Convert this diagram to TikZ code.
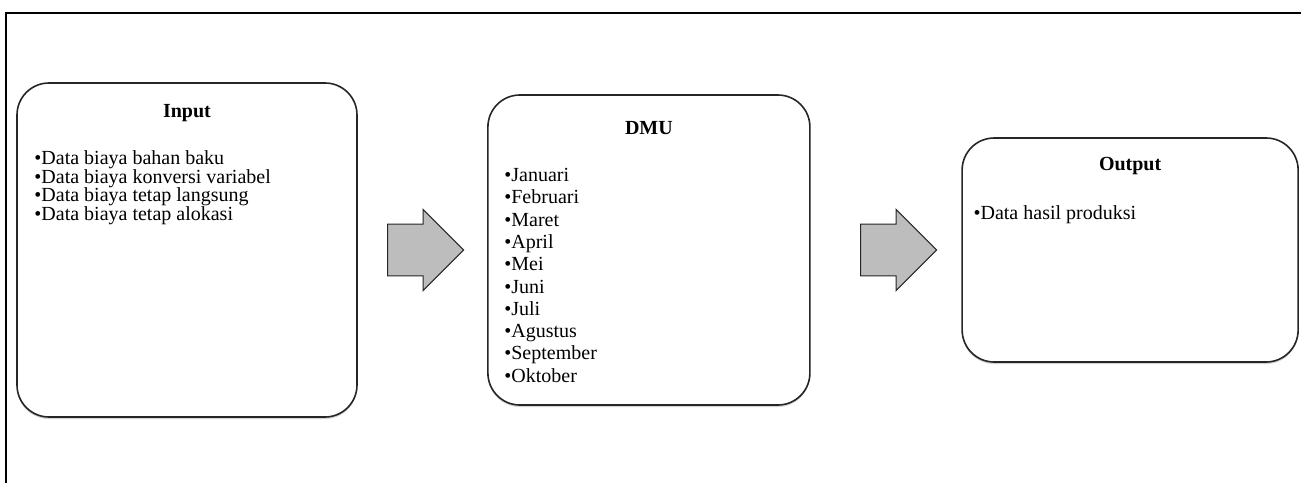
\documentclass[tikz,border=0pt]{standalone}
\usepackage{fontspec}
\setmainfont{Liberation Serif}
\usetikzlibrary{positioning,shapes.arrows,shadows}

\tikzset{
  kotak/.style={draw=black!85, line width=1.2pt, fill=white, rounded corners=24pt,
    drop shadow={shadow xshift=0pt, shadow yshift=-1.5pt, opacity=.35}},
  judul/.style={font=\bfseries\fontsize{15}{18}\selectfont},
  daftar/.style={align=left, anchor=north west, inner sep=0pt},
  panah/.style={single arrow, draw=black!85, line width=.8pt, fill=gray!52,
    inner xsep=0pt, inner ysep=19pt, single arrow head extend=11pt,
    minimum height=57pt}
}

\begin{document}
\begin{tikzpicture}[x=.75pt, y=-.75pt, font=\fontsize{15}{18}\selectfont]
\useasboundingbox (0,0) rectangle (1301,482);
% bingkai luar
\draw[line width=1.5pt] (1302,13.3) -- (6.3,13.3) -- (6.3,483);

% kotak
\node[kotak, minimum width=255pt, minimum height=250.5pt] (input) at (187,250) {};
\node[panah, right=22pt of input] (panah1) {};
\node[kotak, minimum width=241.5pt, minimum height=232.5pt, right=17pt of panah1] (dmu) {};
\node[panah, right=37pt of dmu] (panah2) {};
\node[kotak, minimum width=252pt, minimum height=168pt, right=18pt of panah2] (output) {};

% judul
\node[judul] (judulinput) at ([yshift=-23pt]input.north) {Input};
\node[judul] (juduldmu) at ([yshift=-25.5pt]dmu.north) {DMU};
\node[judul] (juduloutput) at ([yshift=-21.5pt]output.north) {Output};

% isi
\node[daftar, font=\fontsize{15}{14.1}\selectfont] (isiinput) at ([xshift=13.5pt, yshift=-51pt]input.north west)
  {•Data biaya bahan baku\\•Data biaya konversi variabel\\•Data biaya tetap langsung\\•Data biaya tetap alokasi};
\node[daftar, font=\fontsize{15}{16.7}\selectfont] (isidmu) at ([xshift=12.75pt, yshift=-55.5pt]dmu.north west)
  {•Januari\\•Februari\\•Maret\\•April\\•Mei\\•Juni\\•Juli\\•Agustus\\•September\\•Oktober};
\node[daftar] (isioutput) at ([xshift=9pt, yshift=-51pt]output.north west) {•Data hasil produksi};
\end{tikzpicture}
\end{document}
